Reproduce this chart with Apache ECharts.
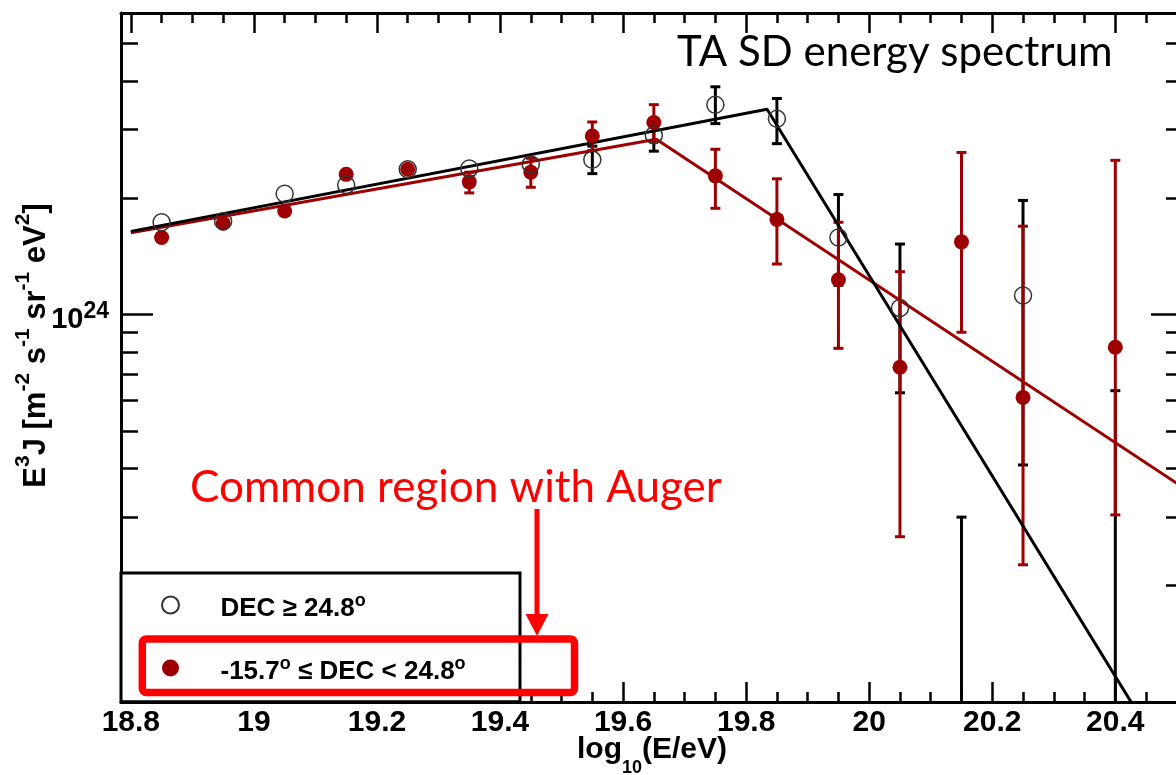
<!DOCTYPE html>
<html>
<head>
<meta charset="utf-8">
<title>TA SD energy spectrum</title>
<script src="https://cdn.jsdelivr.net/npm/echarts@6/dist/echarts.min.js"></script>
<style>
  html, body { margin: 0; padding: 0; background: #fff; }
  #main { width: 1176px; height: 775px; }
</style>
</head>
<body>
<div id="main"></div>
<script>
// bin centres, log10(E/eV)
var energy = [18.85, 18.95, 19.05, 19.15, 19.25, 19.35, 19.45, 19.55, 19.65, 19.75, 19.85, 19.95, 20.05, 20.15, 20.25, 20.4];

// DEC >= 24.8 (open circles), E^3 J in m^-2 s^-1 sr^-1 eV^2
// error bars of the low energy bins are smaller than the marker -> null
var northVal = [1.73e24, 1.74e24, 2.05e24, 2.16e24, 2.37e24, 2.38e24, 2.44e24, 2.51e24, 2.90e24, 3.48e24, 3.20e24, 1.58e24, 1.04e24, null, 1.12e24, null];
var northHi  = [null, null, null, null, null, null, null, 2.72e24, 3.17e24, 3.87e24, 3.61e24, 2.04e24, 1.52e24, 3.00e23, 1.97e24, 6.36e23];
var northLo  = [null, null, null, null, null, null, null, 2.31e24, 2.64e24, 3.11e24, 2.76e24, 1.19e24, 6.28e23, 1e22, 4.09e23, 1e22];

// -15.7 <= DEC < 24.8 (filled circles)
var southVal = [1.58e24, 1.72e24, 1.85e24, 2.30e24, 2.37e24, 2.20e24, 2.33e24, 2.89e24, 3.13e24, 2.28e24, 1.76e24, 1.23e24, 7.31e23, 1.54e24, 6.11e23, 8.23e23];
var southHi  = [null, null, null, null, null, 2.33e24, 2.53e24, 3.14e24, 3.48e24, 2.67e24, 2.24e24, 1.73e24, 1.29e24, 2.62e24, 1.69e24, 2.50e24];
var southLo  = [null, null, null, null, null, 2.06e24, 2.13e24, 2.65e24, 2.80e24, 1.88e24, 1.35e24, 8.18e23, 2.67e23, 9.00e23, 2.26e23, 3.04e23];

// broken power law fits
var northFitX = [18.8, 19.834, 20.44];
var northFitY = [1.639e24, 3.386e24, 9.18e22];
var southFitX = [18.8, 19.654, 20.51];
var southFitY = [1.626e24, 2.833e24, 3.58e23];

// ticks
var xMajor = [18.8, 19, 19.2, 19.4, 19.6, 19.8, 20, 20.2, 20.4];
var xMinor = [18.85, 18.9, 18.95, 19.05, 19.1, 19.15, 19.25, 19.3, 19.35, 19.45, 19.5, 19.55, 19.65, 19.7, 19.75,
              19.85, 19.9, 19.95, 20.05, 20.1, 20.15, 20.25, 20.3, 20.35, 20.45, 20.5];
var yMajor = [1e24];
var yMinor = [2e23, 3e23, 4e23, 5e23, 6e23, 7e23, 8e23, 9e23, 2e24, 3e24, 4e24, 5e24, 6e24];

var northName = 'DEC \u2265 24.8\u00b0';
var southName = '-15.7\u00b0 \u2264 DEC < 24.8\u00b0';

var DARKRED = '#9c0000';
var AXFONT = 'Liberation Sans';
var X_MIN = 18.784, X_MAX = 20.51;
var Y_MIN = 1e23, Y_MAX = 6e24;

function points(vals) {
    var out = [];
    for (var i = 0; i < energy.length; i++) {
        if (vals[i] != null) out.push([energy[i], vals[i]]);
    }
    return out;
}
function errors(lo, hi) {
    var out = [];
    for (var i = 0; i < energy.length; i++) {
        if (lo[i] != null && hi[i] != null) out.push([energy[i], lo[i], hi[i]]);
    }
    return out;
}
function fitLine(xs, ys) {
    var out = [];
    for (var i = 0; i < xs.length; i++) out.push([xs[i], ys[i]]);
    return out;
}

function errorBar(color) {
    return function (params, api) {
        var x = api.value(0);
        var top = api.coord([x, api.value(2)]);
        var bot = api.coord([x, api.value(1)]);
        var half = 5;
        var st = { stroke: color, lineWidth: 3, fill: null };
        return {
            type: 'group',
            children: [
                { type: 'line', shape: { x1: top[0], y1: top[1], x2: bot[0], y2: bot[1] }, style: st },
                { type: 'line', shape: { x1: top[0] - half, y1: top[1], x2: top[0] + half, y2: top[1] }, style: st },
                { type: 'line', shape: { x1: bot[0] - half, y1: bot[1], x2: bot[0] + half, y2: bot[1] }, style: st }
            ]
        };
    };
}

function xAxisDef(pos, ticks, len, withLine, withLabel) {
    var ax = {
        type: 'value', position: pos, min: X_MIN, max: X_MAX,
        axisLine: { show: withLine, lineStyle: { color: '#000', width: 3 } },
        axisTick: { show: true, inside: true, length: len, customValues: ticks, lineStyle: { color: '#000', width: 2.5 } },
        axisLabel: { show: false },
        splitLine: { show: false }
    };
    if (withLabel) {
        ax.axisLabel = {
            show: true, customValues: ticks, margin: 6,
            color: '#000', fontFamily: AXFONT, fontWeight: 'bold', fontSize: 30,
            formatter: function (v) { return String(Math.round(v * 10) / 10); }
        };
        ax.name = '{m|log}{b|10}{m|(E/eV)}';
        ax.nameLocation = 'middle';
        ax.nameGap = 33;
        ax.nameMoveOverlap = false;
        ax.nameTextStyle = {
            rich: {
                m: { fontFamily: AXFONT, fontWeight: 'bold', fontSize: 30, lineHeight: 30, verticalAlign: 'top', color: '#000' },
                b: { fontFamily: AXFONT, fontWeight: 'bold', fontSize: 18, lineHeight: 18, padding: [24, 0, 0, 0], verticalAlign: 'top', color: '#000' }
            }
        };
    }
    return ax;
}

function yAxisDef(pos, ticks, len, withLine, withLabel) {
    var ax = {
        type: 'log', logBase: 10, position: pos, min: Y_MIN, max: Y_MAX,
        axisLine: { show: withLine, lineStyle: { color: '#000', width: 3 } },
        axisTick: { show: true, inside: true, length: len, customValues: ticks, lineStyle: { color: '#000', width: 2.5 } },
        axisLabel: { show: false },
        splitLine: { show: false }
    };
    if (withLabel) {
        ax.axisLabel = {
            show: true, customValues: ticks, margin: 12,
            formatter: function () { return '{a|10}{b|24}'; },
            rich: {
                a: { fontFamily: AXFONT, fontWeight: 'bold', fontSize: 29, lineHeight: 29, padding: [5, 0, 0, 0], verticalAlign: 'top', color: '#000' },
                b: { fontFamily: AXFONT, fontWeight: 'bold', fontSize: 23, lineHeight: 23, verticalAlign: 'top', color: '#000' }
            }
        };
        ax.name = '{m|E}{s|3}{m|J [m}{s|-2}{m| s}{s|-1}{m| sr}{s|-1}{m| eV}{s|2}{m|]}';
        ax.nameLocation = 'middle';
        ax.nameRotate = 90;
        ax.nameGap = 77;
        ax.nameMoveOverlap = false;
        ax.nameTextStyle = {
            padding: [0, 0, 0, 24],
            rich: {
                m: { fontFamily: AXFONT, fontWeight: 'bold', fontSize: 31, lineHeight: 31, padding: [8, 0, 0, 0], verticalAlign: 'top', color: '#000' },
                s: { fontFamily: AXFONT, fontWeight: 'bold', fontSize: 21, lineHeight: 21, verticalAlign: 'top', color: '#000' }
            }
        };
    }
    return ax;
}

var legendRich = {
    sp: { width: 36 },
    t: { fontFamily: AXFONT, fontWeight: 'bold', fontSize: 26, lineHeight: 26, padding: [4, 0, 0, 0], verticalAlign: 'top', color: '#000' },
    s: { fontFamily: AXFONT, fontWeight: 'bold', fontSize: 18, lineHeight: 18, verticalAlign: 'top', color: '#000' }
};

var option = {
    animation: false,
    backgroundColor: '#fff',
    title: {
        text: 'TA SD energy spectrum',
        left: 677, top: 31, padding: 0,
        textStyle: { fontFamily: 'Lato', fontSize: 42, lineHeight: 42, fontWeight: 'normal', color: '#000' }
    },
    grid: { left: 121, top: 13, right: -7, bottom: 73, outerBoundsMode: 'none', containLabel: false },
    xAxis: [
        xAxisDef('bottom', xMajor, 20, true, true),
        xAxisDef('bottom', xMinor, 10, false, false),
        xAxisDef('top', xMajor, 20, true, false),
        xAxisDef('top', xMinor, 10, false, false)
    ],
    yAxis: [
        yAxisDef('left', yMajor, 32, true, true),
        yAxisDef('left', yMinor, 17, false, false),
        yAxisDef('right', yMajor, 32, true, false),
        yAxisDef('right', yMinor, 17, false, false)
    ],
    legend: {
        data: [northName, southName],
        orient: 'vertical', left: 161, top: 592, padding: 0,
        itemWidth: 18, itemHeight: 17, itemGap: 33,
        selectedMode: false, z: 10,
        formatter: function (name) {
            if (name === northName) return '{sp| }{t|DEC \u2265 24.8}{s|o}';
            return '{sp| }{t|-15.7}{s|o}{t| \u2264 DEC < 24.8}{s|o}';
        },
        textStyle: { color: '#000', rich: legendRich }
    },
    graphic: [
        // legend frame
        { type: 'rect', z: 9, shape: { x: 121, y: 573, width: 399, height: 128.7 },
          style: { fill: '#fff', stroke: '#000', lineWidth: 3 } },
        // annotation
        { type: 'text', z: 11, x: 190, y: 488,
          style: { text: 'Common region with Auger', fill: '#ff0000', fontFamily: 'Lato', fontSize: 44, verticalAlign: 'middle', align: 'left' } },
        { type: 'line', z: 11, shape: { x1: 537, y1: 509, x2: 537, y2: 618 }, style: { stroke: '#ff0000', lineWidth: 5 } },
        { type: 'polygon', z: 11, shape: { points: [[525.5, 614], [548.5, 614], [537, 636]] }, style: { fill: '#ff0000' } },
        { type: 'rect', z: 11, shape: { x: 142.3, y: 639, width: 432.2, height: 53.5, r: 4 },
          style: { fill: null, stroke: '#ff0000', lineWidth: 7.5 } }
    ],
    series: [
        { name: 'north errors', type: 'custom', clip: true, renderItem: errorBar('#000'),
          encode: { x: 0, y: [1, 2] }, data: errors(northLo, northHi), z: 2 },
        { name: 'south errors', type: 'custom', clip: true, renderItem: errorBar(DARKRED),
          encode: { x: 0, y: [1, 2] }, data: errors(southLo, southHi), z: 3 },
        { name: 'south fit', type: 'line', data: fitLine(southFitX, southFitY), showSymbol: false, clip: true,
          lineStyle: { color: DARKRED, width: 3 }, itemStyle: { color: DARKRED }, z: 4 },
        { name: 'north fit', type: 'line', data: fitLine(northFitX, northFitY), showSymbol: false, clip: true,
          lineStyle: { color: '#000', width: 3 }, itemStyle: { color: '#000' }, z: 5 },
        { name: southName, type: 'scatter', data: points(southVal), symbol: 'circle', symbolSize: 15,
          itemStyle: { color: DARKRED, opacity: 1 }, z: 6 },
        { name: northName, type: 'scatter', data: points(northVal), symbol: 'circle', symbolSize: 17,
          itemStyle: { color: 'transparent', borderColor: '#333', borderWidth: 1.5, opacity: 1 }, z: 7 }
    ]
};

var chart = echarts.init(document.getElementById('main'), null, { renderer: 'canvas' });
chart.setOption(option);
</script>
</body>
</html>
